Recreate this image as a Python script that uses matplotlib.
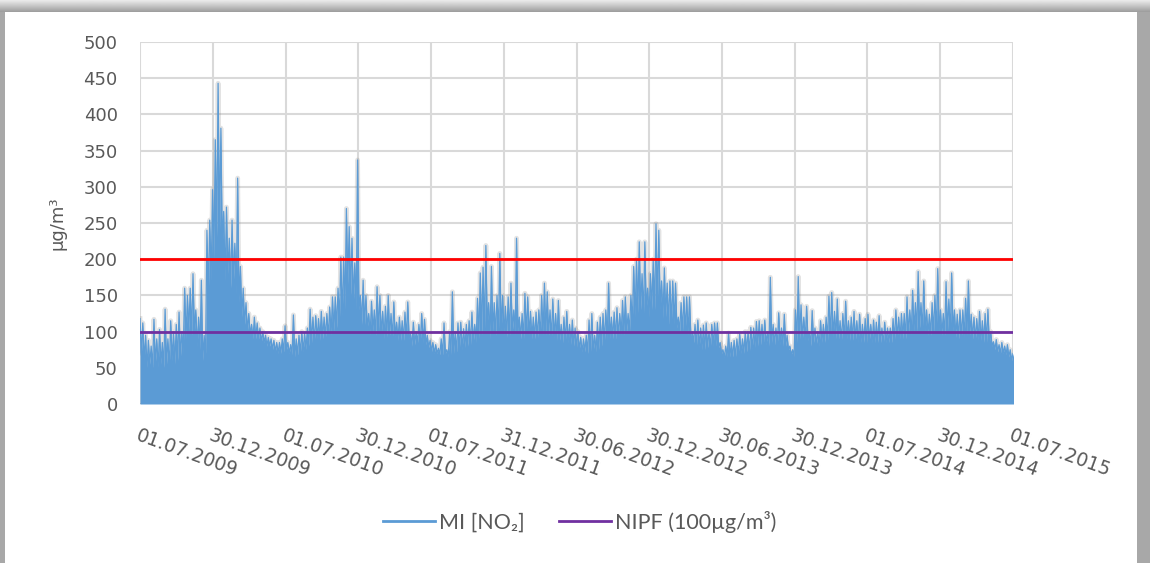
import numpy as np
import matplotlib.pyplot as plt
from matplotlib.lines import Line2D
from matplotlib.patches import Rectangle

# x-axis labels (half-year steps, 01.07.2009 .. 01.07.2015)
date_labels = ["01.07.2009", "30.12.2009", "01.07.2010", "30.12.2010", "01.07.2011",
               "31.12.2011", "30.06.2012", "30.12.2012", "30.06.2013", "30.12.2013",
               "01.07.2014", "30.12.2014", "01.07.2015"]
span_days = 2191

# weekly maxima of the hourly NO2 series (µg/m³)
weekly_peak = [
    118, 112, 95, 88, 80, 117, 90, 103, 85, 131,
    90, 115, 100, 110, 127, 100, 160, 150, 160, 180,
    130, 120, 171, 95, 240, 254, 296, 365, 443, 381,
    266, 272, 229, 254, 222, 312, 190, 160, 140, 125,
    110, 120, 112, 105, 100, 95, 92, 90, 88, 85,
    85, 90, 108, 85, 82, 123, 90, 95, 100, 98,
    105, 131, 120, 122, 118, 128, 120, 125, 134, 148,
    148, 160, 203, 203, 270, 245, 229, 195, 337, 150,
    171, 150, 125, 142, 130, 162, 150, 128, 135, 150,
    125, 141, 113, 120, 115, 127, 141, 97, 113, 100,
    110, 125, 117, 95, 88, 85, 82, 77, 90, 112,
    75, 100, 155, 100, 112, 113, 104, 110, 115, 127,
    110, 146, 181, 189, 219, 140, 190, 140, 150, 208,
    150, 135, 148, 167, 130, 229, 120, 125, 153, 148,
    128, 120, 127, 130, 150, 167, 155, 130, 145, 125,
    143, 110, 120, 128, 110, 116, 105, 100, 92, 90,
    95, 116, 125, 95, 113, 120, 125, 130, 167, 120,
    127, 133, 125, 143, 148, 125, 150, 190, 200, 224,
    180, 224, 160, 180, 200, 249, 240, 170, 188, 167,
    170, 170, 167, 120, 140, 148, 148, 148, 100, 110,
    116, 105, 109, 112, 100, 110, 112, 112, 85, 75,
    80, 98, 85, 88, 90, 97, 90, 100, 100, 106,
    105, 114, 115, 110, 116, 100, 175, 110, 105, 126,
    105, 124, 95, 80, 75, 130, 176, 137, 120, 135,
    100, 129, 105, 100, 115, 110, 120, 149, 154, 128,
    145, 115, 125, 142, 115, 120, 128, 115, 124, 110,
    118, 124, 110, 116, 113, 122, 105, 113, 105, 105,
    118, 130, 120, 125, 125, 148, 130, 157, 140, 183,
    140, 170, 130, 124, 140, 150, 187, 130, 125, 169,
    145, 181, 130, 124, 130, 130, 146, 170, 124, 120,
    118, 128, 115, 125, 131, 100, 86, 89, 82, 85,
    80, 82, 75, 70,
]

# typical level between the weekly spikes
weekly_low = [
    70, 60, 50, 55, 50, 55, 50, 55, 50, 55,
    50, 60, 55, 60, 65, 70, 90, 100, 95, 100,
    80, 75, 60, 70, 150, 170, 200, 230, 240, 220,
    170, 180, 160, 170, 150, 140, 120, 110, 100, 95,
    90, 90, 90, 85, 85, 80, 80, 75, 72, 70,
    70, 72, 75, 70, 68, 65, 68, 70, 72, 75,
    80, 85, 85, 90, 88, 90, 92, 92, 95, 100,
    105, 115, 120, 130, 165, 150, 140, 130, 130, 110,
    110, 105, 95, 100, 95, 100, 95, 90, 92, 95,
    90, 92, 88, 88, 88, 90, 90, 80, 82, 85,
    85, 85, 82, 78, 72, 70, 70, 68, 68, 70,
    65, 68, 70, 72, 75, 75, 78, 80, 82, 85,
    85, 90, 95, 100, 110, 90, 100, 95, 95, 100,
    95, 92, 95, 100, 95, 100, 90, 90, 95, 95,
    90, 90, 90, 92, 95, 95, 95, 90, 90, 88,
    88, 85, 85, 85, 82, 80, 78, 75, 72, 72,
    70, 70, 72, 72, 75, 80, 85, 88, 90, 90,
    90, 92, 95, 95, 100, 100, 110, 120, 125, 130,
    120, 130, 120, 130, 130, 140, 130, 118, 120, 110,
    110, 110, 105, 100, 100, 100, 95, 95, 85, 80,
    78, 75, 75, 78, 78, 80, 80, 78, 70, 65,
    65, 65, 65, 65, 68, 70, 70, 72, 72, 75,
    78, 80, 82, 82, 82, 80, 85, 82, 80, 82,
    80, 80, 75, 68, 65, 85, 90, 90, 88, 88,
    80, 85, 82, 80, 85, 85, 88, 90, 92, 90,
    90, 88, 88, 90, 88, 88, 88, 85, 85, 85,
    85, 88, 85, 85, 85, 85, 82, 85, 85, 85,
    88, 90, 90, 90, 90, 95, 95, 100, 100, 105,
    100, 100, 95, 95, 98, 98, 100, 95, 95, 100,
    95, 100, 92, 90, 92, 92, 95, 95, 90, 88,
    88, 88, 85, 85, 85, 80, 75, 72, 70, 70,
    68, 65, 60, 55,
]

nipf_limit = 100
upper_limit = 200

blue = "#5B9BD5"
purple = "#7030A0"
text_col = "#595959"

days = np.arange(len(weekly_peak)) * 7.0
x = np.empty(2 * len(days))
y = np.empty(2 * len(days))
x[0::2] = days
x[1::2] = days + 3.5
y[0::2] = weekly_peak
y[1::2] = weekly_low

fig = plt.figure(figsize=(11.5, 5.63), dpi=100)
fig.patch.set_facecolor("#a8a8a8")

# white card with a soft grey top edge
card = fig.add_axes([0, 0, 1, 1], zorder=-2)
card.axis("off")
card.add_patch(Rectangle((5, 12), 1132, 560, facecolor="white", edgecolor="none"))
card.imshow(np.linspace(0.92, 0.62, 20).reshape(-1, 1), cmap="gray", vmin=0, vmax=1,
            aspect="auto", extent=(0, 1150, 12, 0))
card.set_xlim(0, 1150)
card.set_ylim(563, 0)

ax = fig.add_axes([140 / 1150, 1 - 404 / 563, 873 / 1150, 362 / 563], zorder=1)
ax.set_facecolor("none")
ax.set_xlim(0, span_days)
ax.set_ylim(0, 500)

ax.plot(x, y, color="#808080", lw=3.5, alpha=0.22, zorder=2)
ax.fill_between(x, 0, y, color=blue, lw=0, zorder=3)
ax.plot(x, y, color=blue, lw=0.9, zorder=3)
ax.axhline(0, color="#9a9a9a", lw=1.2, alpha=0.6, zorder=2.5)
ax.axhline(upper_limit, color="#FF0000", lw=2, zorder=4)
ax.axhline(nipf_limit, color=purple, lw=2, zorder=4)

ax.set_yticks(np.arange(0, 501, 50))
ax.set_xticks(np.linspace(0, span_days, len(date_labels)))
ax.set_xticklabels(date_labels, rotation=-20, ha="left", va="top",
                   rotation_mode="anchor")
ax.grid(color="#d9d9d9", lw=1.5, zorder=0)
ax.set_axisbelow(True)
for s in ax.spines.values():
    s.set_visible(False)
ax.tick_params(axis="both", length=0, labelsize=13, labelcolor=text_col)
ax.tick_params(axis="y", pad=16)
ax.tick_params(axis="x", pad=16, labelsize=13.5)
ax.set_ylabel("µg/m³", fontsize=13, color=text_col, labelpad=12)

handles = [Line2D([], [], color=blue, lw=2), Line2D([], [], color=purple, lw=2)]
leg = fig.legend(handles, ["MI [NO₂]", "NIPF (100µg/m³)"], loc="center",
                 bbox_to_anchor=(580 / 1150, 1 - 522 / 563), ncol=2, frameon=False,
                 prop={"family": ["Lato", "DejaVu Sans"], "size": 15.5},
                 handlelength=2.4, columnspacing=1.6, handletextpad=0.2)
for t in leg.get_texts():
    t.set_color(text_col)

fig.savefig("out.png", dpi=100)
